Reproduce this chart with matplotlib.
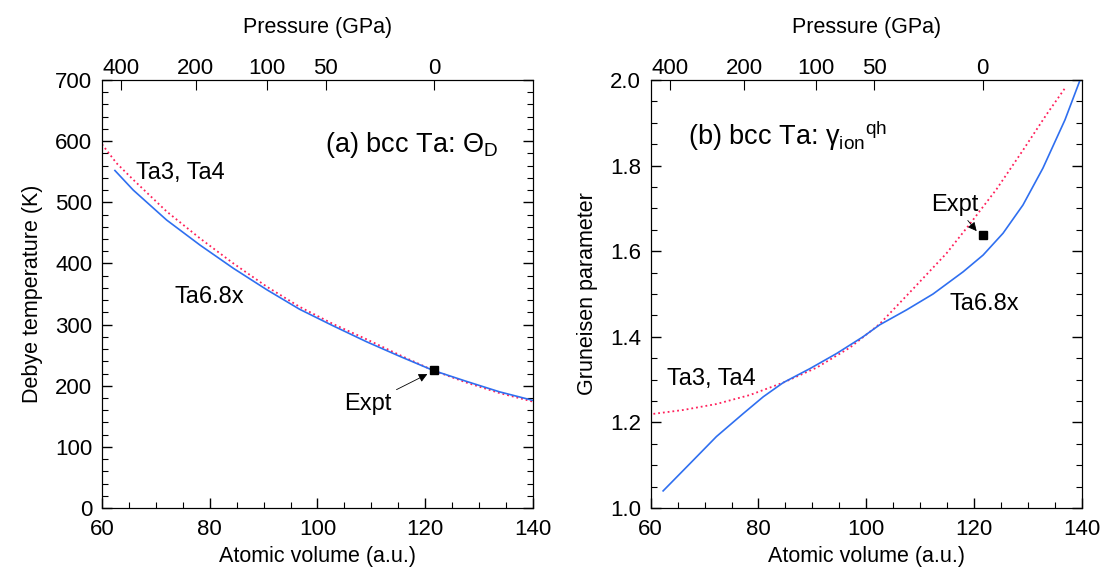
import matplotlib.pyplot as plt

plt.rcParams['font.family'] = ['Liberation Sans', 'DejaVu Sans']
plt.rcParams['mathtext.fontset'] = 'custom'
plt.rcParams['mathtext.rm'] = 'Liberation Sans'
plt.rcParams['mathtext.it'] = 'Liberation Sans:italic'

# top axis: pressure labels placed at matching atomic volumes
pressure_labels = ['400', '200', '100', '50', '0']
pressure_volumes = [63.5, 77.4, 90.6, 101.5, 121.6]

# (a) Debye temperature
vol_a68 = [62.4, 65.8, 72.0, 78.2, 84.4, 90.6, 96.7, 102.9, 109.1, 115.3, 121.5, 127.7, 133.8, 140.0]
theta_a68 = [552, 520, 471, 430, 392, 357, 325, 298, 272, 248, 225, 207, 190, 176]
vol_a34 = [60.0, 62.7, 65.8, 72.0, 78.2, 84.4, 90.6, 96.7, 102.9, 109.1, 115.3, 121.5, 127.7,
           133.8, 140.0]
theta_a34 = [595, 564, 537, 485, 441, 400, 362, 329, 301, 276, 250, 225, 205, 188, 174]
expt_a = (121.6, 225)

# (b) Gruneisen parameter
vol_b68 = [62.3, 67.3, 72.2, 77.2, 80.9, 84.6, 89.6, 94.5, 99.4, 102.5, 107.5, 112.4, 118.0,
           121.7, 125.4, 129.1, 132.8, 136.9, 140.0]
gamma_b68 = [1.040, 1.104, 1.167, 1.221, 1.260, 1.293, 1.326, 1.361, 1.400, 1.428, 1.463,
             1.500, 1.552, 1.591, 1.642, 1.708, 1.794, 1.907, 2.01]
vol_b34 = [60.5, 66.0, 72.2, 78.4, 84.6, 90.8, 97.0, 102.5, 108.7, 114.9, 119.2, 124.2,
           129.1, 133.5, 136.9]
gamma_b34 = [1.220, 1.229, 1.243, 1.264, 1.293, 1.328, 1.375, 1.430, 1.512, 1.595, 1.663,
             1.745, 1.836, 1.920, 1.981]
expt_b = (121.6, 1.639)

blue = '#2f6ff0'
red = '#ff1f5a'

fig = plt.figure(figsize=(11.05, 5.85), dpi=100)
ax1 = fig.add_axes([0.0923, 0.1316, 0.390, 0.7316])
ax2 = fig.add_axes([0.5889, 0.1316, 0.390, 0.7316])


def style(ax, ymin, ymax, ymaj, ymin_step):
    ax.set_xlim(60, 140)
    ax.set_ylim(ymin, ymax)
    ax.set_xticks(range(60, 141, 20))
    ax.set_xticks(range(60, 141, 5), minor=True)
    ax.set_yticks([ymin + i * ymaj for i in range(int(round((ymax - ymin) / ymaj)) + 1)])
    ax.set_yticks([ymin + i * ymin_step for i in range(int(round((ymax - ymin) / ymin_step)) + 1)],
                  minor=True)
    ax.tick_params(which='both', direction='in', top=False, right=True, labelsize=16)
    ax.tick_params(which='major', length=7, width=1)
    ax.tick_params(which='minor', length=4, width=0.8)
    ax.tick_params(axis='x', which='major', pad=8)
    ax.tick_params(axis='y', which='major', pad=7)
    ax.set_xlabel('Atomic volume (a.u.)', fontsize=15.5, labelpad=4)
    top = ax.twiny()
    top.set_xlim(60, 140)
    top.set_xticks(pressure_volumes)
    top.set_xticklabels(pressure_labels)
    top.tick_params(direction='in', length=7, labelsize=16, pad=1)
    top.set_xlabel('Pressure (GPa)', fontsize=15.5, labelpad=18)
    return top


style(ax1, 0, 700, 100, 20)
ax1.plot(vol_a34, theta_a34, ':', color=red, lw=1.3)
ax1.plot(vol_a68, theta_a68, '-', color=blue, lw=1.2)
ax1.plot(*expt_a, 's', color='black', ms=6)
ax1.set_ylabel('Debye temperature (K)', fontsize=15.5, labelpad=9)
ax1.set_yticklabels([str(v) for v in range(0, 701, 100)])
ax1.text(101.4, 583, r'(a) bcc Ta: $\Theta_{\rm D}$', fontsize=19.5, va='baseline')
ax1.text(66.4, 538, 'Ta3, Ta4', fontsize=17, va='baseline')
ax1.text(73.5, 335, 'Ta6.8x', fontsize=17, va='baseline')
ax1.annotate('Expt', xy=(120.4, 219), xytext=(104.9, 160), fontsize=17, va='baseline',
             arrowprops=dict(arrowstyle='-|>', color='black', lw=0.6,
                             shrinkA=2, shrinkB=0, mutation_scale=13))

style(ax2, 1.0, 2.0, 0.2, 0.05)
ax2.plot(vol_b34, gamma_b34, ':', color=red, lw=1.3)
ax2.plot(vol_b68, gamma_b68, '-', color=blue, lw=1.2)
ax2.plot(*expt_b, 's', color='black', ms=6)
ax2.set_ylabel('Gruneisen parameter', fontsize=15.5, labelpad=9)
ax2.set_yticklabels(['%.1f' % (1.0 + 0.2 * i) for i in range(6)])
ax2.text(67.0, 1.848, r'(b) bcc Ta: $\mathrm{\gamma}_{\rm ion}{}^{\rm qh}$', fontsize=19.5,
         va='baseline')
ax2.text(63.0, 1.287, 'Ta3, Ta4', fontsize=17, va='baseline')
ax2.text(115.5, 1.463, 'Ta6.8x', fontsize=17, va='baseline')
ax2.annotate('Expt', xy=(120.5, 1.647), xytext=(112.0, 1.695), fontsize=17, va='baseline',
             arrowprops=dict(arrowstyle='-|>', color='black', lw=0.6,
                             shrinkA=2, shrinkB=0, mutation_scale=13))

plt.savefig('out.png', dpi=100)
